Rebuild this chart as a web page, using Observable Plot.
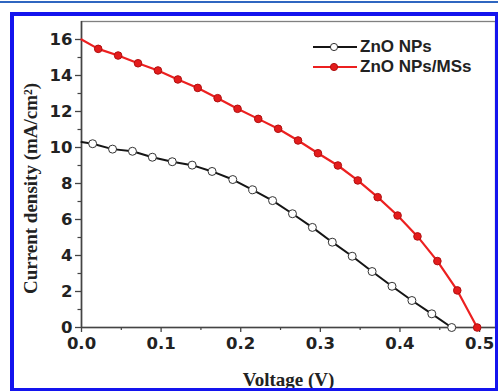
<!DOCTYPE html>
<html><head><meta charset="utf-8">
<script src="https://cdn.jsdelivr.net/npm/d3@7"></script>
<script src="https://cdn.jsdelivr.net/npm/@observablehq/plot@0.6"></script>
<style>
body{margin:0;background:#fff;}
#wrap{position:relative;width:498px;height:392px;overflow:hidden;background:#fff;}
#topline{position:absolute;left:0;top:1px;width:498px;height:2px;background:#2f66c0;}
#box{position:absolute;left:10px;top:12px;width:481px;height:372px;border-left:4px solid #1414ee;border-top:4px solid #1414ee;border-right:3px solid #1414ee;border-bottom:3px solid #1414ee;pointer-events:none;}
.leg{position:absolute;left:310px;height:20px;display:flex;align-items:center;font-family:"Liberation Sans",Arial,sans-serif;font-weight:bold;font-size:17px;color:#222;}
.leg svg{margin-right:2px;}
</style></head><body>
<div id="wrap"><div id="topline"></div></div>
<script>
// ZnO NPs (black, open circles)
const npsV = [0.014,0.039,0.064,0.089,0.114,0.139,0.164,0.190,0.215,0.240,0.265,0.290,0.315,0.340,0.365,0.390,0.415,0.440,0.465];
const npsJ = [10.21,9.91,9.79,9.46,9.21,9.02,8.67,8.22,7.65,7.05,6.32,5.56,4.74,3.96,3.11,2.29,1.50,0.76,0.0];
const npsStart = [0, 10.3];
// ZnO NPs/MSs (red, filled circles)
const msV = [0.021,0.046,0.071,0.096,0.121,0.146,0.171,0.196,0.222,0.247,0.272,0.297,0.322,0.347,0.372,0.397,0.422,0.447,0.472,0.497];
const msJ = [15.48,15.11,14.68,14.28,13.78,13.31,12.74,12.15,11.59,11.04,10.39,9.68,9.00,8.17,7.24,6.22,5.06,3.69,2.06,0.0];
const msStart = [0, 16.0];
const seriesNames = ["ZnO NPs", "ZnO NPs/MSs"];
const xTicks = [0, 0.1, 0.2, 0.3, 0.4, 0.5];
const xMinor = [0.05, 0.15, 0.25, 0.35, 0.45];
const yTicks = [0, 2, 4, 6, 8, 10, 12, 14, 16];
const yMinor = [1, 3, 5, 7, 9, 11, 13, 15];

const nps = npsV.map((v, i) => ({v, j: npsJ[i]}));
const ms = msV.map((v, i) => ({v, j: msJ[i]}));
const npsLine = [{v: npsStart[0], j: npsStart[1]}, ...nps];
const msLine = [{v: msStart[0], j: msStart[1]}, ...ms];

const tickFont = {fontFamily: "DejaVu Sans", fontWeight: "bold", fontSize: 16.5};

const chart = Plot.plot({
  width: 498, height: 392,
  marginLeft: 81, marginTop: 21, marginRight: 3, marginBottom: 65,
  style: {fontFamily: "DejaVu Sans", fontWeight: "bold", fontSize: "16.5px", color: "#222", background: "transparent"},
  x: {domain: [0, 0.52]},
  y: {domain: [0, 17]},
  marks: [
    Plot.frame({stroke: "#808080", strokeWidth: 1.3}),
    Plot.axisX({ticks: xTicks, tickFormat: d3.format(".1f"), tickSize: 5, tickPadding: 5, label: null, stroke: "#444", strokeWidth: 1.3, ...tickFont}),
    Plot.axisX({ticks: xMinor, tickFormat: () => "", tickSize: 3, label: null, stroke: "#444", strokeWidth: 1.2}),
    Plot.axisY({ticks: yTicks, tickFormat: d3.format("d"), tickSize: 6, tickPadding: 3, label: null, stroke: "#444", strokeWidth: 1.3, ...tickFont}),
    Plot.axisY({ticks: yMinor, tickFormat: () => "", tickSize: 3.5, label: null, stroke: "#444", strokeWidth: 1.2}),
    Plot.ruleY([0], {stroke: "#444", strokeWidth: 1.6}),
    Plot.ruleX([0], {stroke: "#444", strokeWidth: 1.6}),
    Plot.line(npsLine, {x: "v", y: "j", stroke: "#151515", strokeWidth: 2}),
    Plot.dot(nps, {x: "v", y: "j", r: 4, fill: "white", stroke: "#333", strokeWidth: 1}),
    Plot.line(msLine, {x: "v", y: "j", stroke: "#ec2020", strokeWidth: 2.2}),
    Plot.dot(ms, {x: "v", y: "j", r: 3.8, fill: "#e41c1c", stroke: "#b01010", strokeWidth: 1}),
    Plot.text(["Voltage (V)"], {frameAnchor: "bottom", dy: 58, lineAnchor: "bottom", textAnchor: "middle", fontFamily: "Liberation Serif", fontWeight: "bold", fontSize: 19, fill: "#222"}),
    Plot.text(["Current density (mA/cm²)"], {frameAnchor: "left", dx: -45, dy: 14, rotate: -90, lineAnchor: "bottom", textAnchor: "middle", fontFamily: "Liberation Serif", fontWeight: "bold", fontSize: 19, fill: "#222"})
  ]
});
const wrap = document.getElementById("wrap");
chart.style.position = "absolute";
chart.style.left = "0px";
chart.style.top = "0px";
wrap.appendChild(chart);

const box = document.createElement("div");
box.id = "box";
wrap.appendChild(box);

const legendItems = [
  {name: seriesNames[0], stroke: "#151515", fill: "white", dot: "#333", top: 37},
  {name: seriesNames[1], stroke: "#ec2020", fill: "#e41c1c", dot: "#b01010", top: 57}
];
legendItems.forEach(it => {
  const d = document.createElement("div");
  d.className = "leg";
  d.style.top = it.top + "px";
  d.innerHTML = `<svg width="48" height="20"><line x1="3" y1="10" x2="47" y2="10" stroke="${it.stroke}" stroke-width="2"/><circle cx="24" cy="10" r="3.6" fill="${it.fill}" stroke="${it.dot}" stroke-width="1"/></svg><span>${it.name}</span>`;
  wrap.appendChild(d);
});
</script>
</body></html>
